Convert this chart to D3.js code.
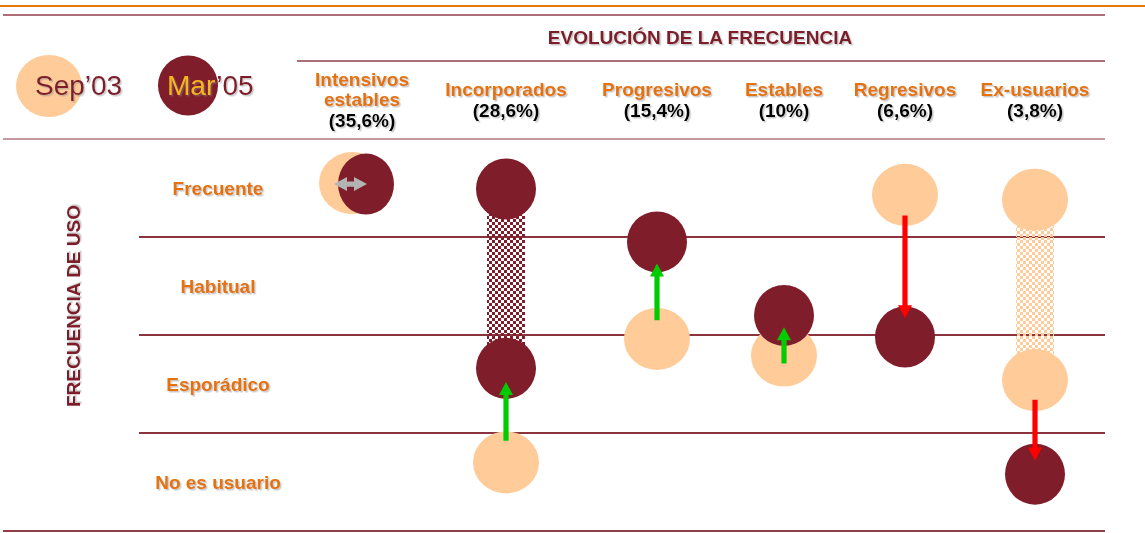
<!DOCTYPE html>
<html>
<head>
<meta charset="utf-8">
<script src="https://cdn.jsdelivr.net/npm/d3@7"></script>
<style>
  body { margin: 0; background: #fff; }
  svg { display: block; font-family: "Liberation Sans", Arial, sans-serif; }
</style>
</head>
<body>
<div id="chart"></div>
<script>
// columns of the "evolución" table and their share of users
var groups = ["Intensivos estables", "Incorporados", "Progresivos", "Estables", "Regresivos", "Ex-usuarios"];
var shares = ["(35,6%)", "(28,6%)", "(15,4%)", "(10%)", "(6,6%)", "(3,8%)"];
// frequency of use, top to bottom
var levels = ["Frecuente", "Habitual", "Esporádico", "No es usuario"];
// level values: 4 = Frecuente, 3 = Habitual, 2 = Esporádico, 1 = No es usuario
// two values = a range (checkered band between them)
var sep03 = [[4.05], [1.2], [2.46], [2.29], [3.93], [3.88, 2.04]];
var mar05 = [[4.04], [3.99, 2.16], [3.45], [2.7], [2.48], [1.08]];
// arrows from Sep'03 towards Mar'05
var arrowFrom = [null, 1.42, 2.65, 2.21, 3.72, 1.84];
var arrowTo   = [null, 2.02, 3.23, 2.58, 2.67, 1.22];

var W = 1145, H = 533;
var maroon = "#7f1d2a", peach = "#ffcc99", orange = "#e5720a";

var svg = d3.select("#chart").append("svg")
    .attr("width", W)
    .attr("height", H);

var defs = svg.append("defs");
defs.append("filter").attr("id", "shadow")
    .attr("x", "-10%").attr("y", "-20%").attr("width", "130%").attr("height", "150%")
  .append("feDropShadow")
    .attr("dx", 1.5).attr("dy", 1.5).attr("stdDeviation", 0.4)
    .attr("flood-color", "#888").attr("flood-opacity", 0.45);

function checker(id, color) {
  var p = defs.append("pattern").attr("id", id)
      .attr("patternUnits", "userSpaceOnUse")
      .attr("width", 6).attr("height", 6);
  p.append("rect").attr("width", 3).attr("height", 3).attr("fill", color);
  p.append("rect").attr("x", 3).attr("y", 3).attr("width", 3).attr("height", 3).attr("fill", color);
}
checker("chkMaroon", maroon);
checker("chkPeach", peach);

// scales
var x = d3.scaleOrdinal()
    .domain(groups)
    .range([359, 506, 657, 784, 905, 1035]);
var y = d3.scaleLinear()
    .domain([1, 4])
    .range([482, 188]);

// frame lines
svg.append("line").attr("x1", 0).attr("x2", W).attr("y1", 6).attr("y2", 6)
    .attr("stroke", "#e8780e").attr("stroke-width", 2.2);
svg.append("line").attr("x1", 3).attr("x2", 1105).attr("y1", 15).attr("y2", 15)
    .attr("stroke", maroon).attr("stroke-width", 1.6).attr("opacity", 0.85);
svg.append("line").attr("x1", 297).attr("x2", 1105).attr("y1", 61).attr("y2", 61)
    .attr("stroke", maroon).attr("stroke-width", 1.6).attr("opacity", 0.85);
svg.append("line").attr("x1", 3).attr("x2", 1105).attr("y1", y(4.5)).attr("y2", y(4.5))
    .attr("stroke", maroon).attr("stroke-width", 1.6).attr("opacity", 0.6);
svg.append("line").attr("x1", 3).attr("x2", 1105).attr("y1", y(0.5)).attr("y2", y(0.5))
    .attr("stroke", maroon).attr("stroke-width", 1.8).attr("opacity", 0.85);
svg.selectAll(".rowline")
    .data([3.5, 2.5, 1.5])
    .enter().append("line")
    .attr("class", "rowline")
    .attr("x1", 139).attr("x2", 1105)
    .attr("y1", function(d) { return y(d); })
    .attr("y2", function(d) { return y(d); })
    .attr("stroke", maroon).attr("stroke-width", 1.8).attr("opacity", 0.9);

// title
svg.append("text")
    .attr("x", 700).attr("y", 44)
    .attr("text-anchor", "middle")
    .attr("font-size", 19).attr("font-weight", "bold")
    .attr("fill", maroon)
    .attr("filter", "url(#shadow)")
    .text("EVOLUCIÓN DE LA FRECUENCIA");

// legend
svg.append("ellipse").attr("cx", 49).attr("cy", 86).attr("rx", 33).attr("ry", 31).attr("fill", peach);
svg.append("text").attr("x", 35).attr("y", 95)
    .attr("font-size", 28).attr("fill", maroon).attr("filter", "url(#shadow)")
    .text("Sep’03");
svg.append("circle").attr("cx", 188).attr("cy", 85.5).attr("r", 30).attr("fill", maroon);
var leg = svg.append("text").attr("x", 167).attr("y", 95)
    .attr("font-size", 28).attr("fill", maroon).attr("filter", "url(#shadow)");
leg.append("tspan").attr("fill", "#f3b61b").text("Mar");
leg.append("tspan").text("’05");

// column headers
groups.forEach(function(g, i) {
  var t = svg.append("text")
      .attr("text-anchor", "middle")
      .attr("font-size", 19).attr("font-weight", "bold")
      .attr("filter", "url(#shadow)");
  var cx = i === 0 ? 362 : x(g);
  var words = i === 0 ? ["Intensivos", "estables"] : [g];
  var y0 = i === 0 ? 86 : 96;
  words.forEach(function(w, k) {
    t.append("tspan").attr("x", cx).attr("y", y0 + k * 20).attr("fill", orange).text(w);
  });
  t.append("tspan").attr("x", cx).attr("y", y0 + words.length * 20 + 1).attr("fill", "#000").text(shares[i]);
});

// row labels
svg.selectAll(".rowlabel")
    .data(levels)
    .enter().append("text")
    .attr("class", "rowlabel")
    .attr("x", 218)
    .attr("y", function(d, i) { return y(4 - i) + 7; })
    .attr("text-anchor", "middle")
    .attr("font-size", 19).attr("font-weight", "bold")
    .attr("fill", orange)
    .attr("filter", "url(#shadow)")
    .text(function(d) { return d; });

svg.append("text")
    .attr("transform", "translate(80,306) rotate(-90)")
    .attr("text-anchor", "middle")
    .attr("font-size", 19).attr("font-weight", "bold")
    .attr("fill", maroon)
    .attr("filter", "url(#shadow)")
    .text("FRECUENCIA DE USO");

// checkered ranges
function bands(series, fill) {
  series.forEach(function(v, i) {
    if (v.length < 2) return;
    svg.append("rect")
        .attr("x", x(groups[i]) - 19)
        .attr("width", 38)
        .attr("y", y(d3.max(v)))
        .attr("height", y(d3.min(v)) - y(d3.max(v)))
        .attr("fill", fill);
  });
}
bands(sep03, "url(#chkPeach)");
bands(mar05, "url(#chkMaroon)");

// dodge for the first column where both points overlap
function dx(i, s) { return i === 0 ? s * 7 : 0; }

sep03.forEach(function(v, i) {
  svg.selectAll(null).data(v).enter().append("ellipse")
      .attr("cx", x(groups[i]) + dx(i, -1))
      .attr("cy", function(d) { return y(d); })
      .attr("rx", 33).attr("ry", 31)
      .attr("fill", peach);
});
mar05.forEach(function(v, i) {
  svg.selectAll(null).data(v).enter().append("ellipse")
      .attr("cx", x(groups[i]) + dx(i, 1))
      .attr("cy", function(d) { return y(d); })
      .attr("rx", i === 0 ? 28 : 30).attr("ry", 30.5)
      .attr("fill", maroon);
});

// arrows
function arrow(x0, y0, x1, y1, color, both) {
  var len = Math.hypot(x1 - x0, y1 - y0), a = Math.atan2(y1 - y0, x1 - x0);
  var g = svg.append("g")
      .attr("transform", "translate(" + x0 + "," + y0 + ") rotate(" + (a * 180 / Math.PI) + ")");
  var hl = 13, hw = 7, sw = 2.6;
  var start = both ? hl : 0;
  var pts = [[start, -sw], [len - hl, -sw], [len - hl, -hw], [len, 0], [len - hl, hw], [len - hl, sw], [start, sw]];
  if (both) pts = pts.concat([[start, hw], [0, 0], [start, -hw]]);
  g.append("polygon").attr("points", pts.map(function(p) { return p.join(","); }).join(" "))
      .attr("fill", color);
}

arrowFrom.forEach(function(f, i) {
  if (f === null) return;
  var cx = x(groups[i]);
  arrow(cx, y(f), cx, y(arrowTo[i]), arrowTo[i] > f ? "#00cc00" : "#ff0000", false);
});
// no change: grey double arrow
arrow(334, y(4.04), 367, y(4.04), "#b3b3b3", true);
</script>
</body>
</html>
